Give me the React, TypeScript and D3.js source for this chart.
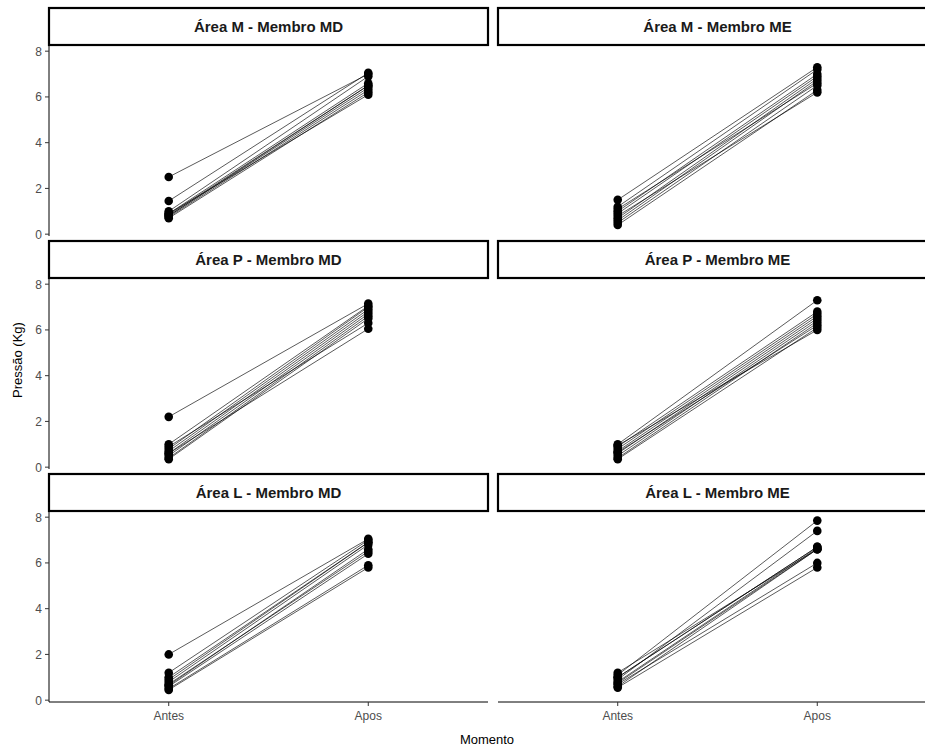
import React from "react";
import * as d3 from "d3";

const momentos = ["Antes", "Apos"];
const panelTitles = [
  "Área M - Membro MD", "Área M - Membro ME",
  "Área P - Membro MD", "Área P - Membro ME",
  "Área L - Membro MD", "Área L - Membro ME",
];
const antesMMD = [2.5, 1.45, 1.0, 0.9, 0.85, 0.8, 0.75, 0.7, 0.9, 0.8];
const aposMMD = [7.0, 7.05, 6.9, 6.6, 6.5, 6.4, 6.3, 6.2, 6.1, 6.5];
const antesMME = [1.5, 1.2, 1.0, 0.9, 0.7, 0.6, 0.5, 0.4, 0.8, 1.1];
const aposMME = [7.3, 7.2, 7.0, 6.9, 6.8, 6.7, 6.5, 6.3, 6.2, 6.6];
const antesPMD = [2.2, 1.0, 0.8, 0.7, 0.6, 0.5, 0.4, 0.35, 0.9, 0.6];
const aposPMD = [7.15, 7.05, 7.0, 6.9, 6.8, 6.7, 6.6, 6.5, 6.3, 6.05];
const antesPME = [1.0, 0.9, 0.8, 0.7, 0.6, 0.5, 0.4, 0.35, 0.95, 0.65];
const aposPME = [7.3, 6.8, 6.7, 6.6, 6.5, 6.4, 6.3, 6.1, 6.0, 6.2];
const antesLMD = [2.0, 1.2, 1.0, 0.8, 0.7, 0.6, 0.5, 0.45, 0.9, 0.65];
const aposLMD = [7.05, 7.0, 6.9, 6.8, 6.5, 6.4, 5.9, 5.8, 6.9, 6.6];
const antesLME = [1.2, 1.1, 1.0, 0.9, 0.8, 0.7, 0.6, 0.55, 1.0, 0.75];
const aposLME = [6.6, 7.85, 6.7, 7.4, 6.65, 6.0, 6.6, 5.8, 6.7, 6.6];
const yTicks = [0, 2, 4, 6, 8];

const panels = [
  [antesMMD, aposMMD], [antesMME, aposMME],
  [antesPMD, aposPMD], [antesPME, aposPME],
  [antesLMD, aposLMD], [antesLME, aposLME],
];

export default function App() {
  const W = 925, H = 749;
  const colX = [49, 498];
  const panelW = 439;
  const rowTop = [8, 241, 474];
  const stripH = 37;
  const plotH = 191;
  const font = "'Liberation Sans', Arial, sans-serif";

  return (
    <svg width={W} height={H} style={{ position: "absolute", left: 0, top: 0, background: "#fff" }}>
      {panels.map((p, i) => {
        const col = i % 2, row = Math.floor(i / 2);
        const x0 = colX[col];
        const sTop = rowTop[row];
        const pTop = sTop + stripH;
        const pBot = pTop + plotH;
        const x = d3.scalePoint().domain(momentos).range([x0, x0 + panelW]).padding(0.6);
        const y = d3.scaleLinear().domain([-0.08, 8.27]).range([pBot, pTop]);
        const [a, b] = p;
        return (
          <g key={i}>
            <rect x={x0} y={sTop} width={panelW} height={stripH} fill="#fff" stroke="#000" strokeWidth={2.2} />
            <text x={x0 + panelW / 2} y={sTop + stripH / 2 + 5} textAnchor="middle" fontFamily={font} fontWeight="bold" fontSize={15} fill="#1a1a1a">{panelTitles[i]}</text>
            {a.map((v, k) => (
              <line key={"l" + k} x1={x("Antes")} y1={y(v)} x2={x("Apos")} y2={y(b[k])} stroke="#000" strokeWidth={0.65} />
            ))}
            {a.map((v, k) => (
              <circle key={"a" + k} cx={x("Antes")} cy={y(v)} r={4.3} fill="#000" />
            ))}
            {b.map((v, k) => (
              <circle key={"b" + k} cx={x("Apos")} cy={y(v)} r={4.3} fill="#000" />
            ))}
            {col === 0 && (
              <g>
                <line x1={x0} x2={x0} y1={pTop} y2={pBot} stroke="#000" strokeWidth={1} />
                {yTicks.map((t) => (
                  <g key={t}>
                    <line x1={x0 - 4} x2={x0} y1={y(t)} y2={y(t)} stroke="#333" />
                    <text x={x0 - 7} y={y(t) + 4.5} textAnchor="end" fontFamily={font} fontSize={12} fill="#4d4d4d">{t}</text>
                  </g>
                ))}
              </g>
            )}
            {row === 2 && (
              <g>
                <line x1={x0} x2={x0 + panelW} y1={pBot} y2={pBot} stroke="#000" strokeWidth={1} />
                {momentos.map((m) => (
                  <g key={m}>
                    <line x1={x(m)} x2={x(m)} y1={pBot} y2={pBot + 4} stroke="#333" />
                    <text x={x(m)} y={pBot + 18} textAnchor="middle" fontFamily={font} fontSize={12} fill="#4d4d4d">{m}</text>
                  </g>
                ))}
              </g>
            )}
          </g>
        );
      })}
      <text x={487} y={744} textAnchor="middle" fontFamily={font} fontSize={13} fill="#000">Momento</text>
      <text transform={`translate(22,360) rotate(-90)`} textAnchor="middle" fontFamily={font} fontSize={13} fill="#000">Pressão (Kg)</text>
    </svg>
  );
}
